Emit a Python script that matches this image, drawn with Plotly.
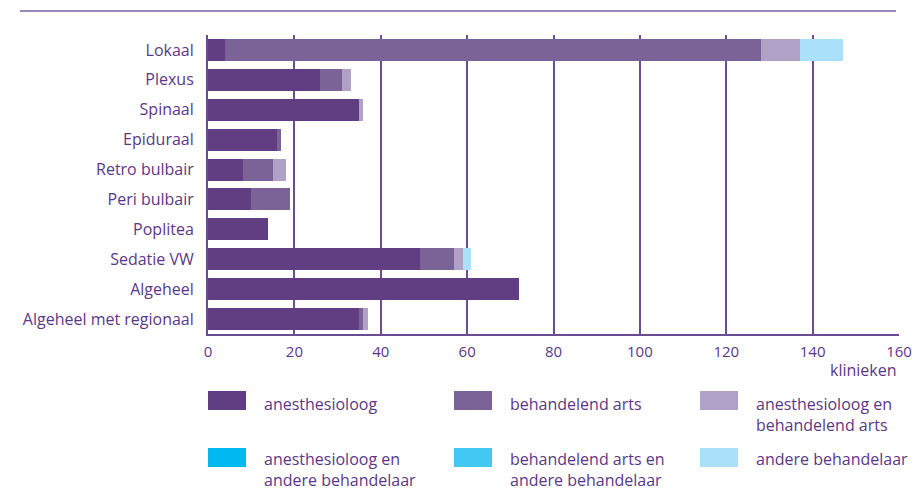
import plotly.graph_objects as go

categories = ["Lokaal", "Plexus", "Spinaal", "Epiduraal", "Retro bulbair",
              "Peri bulbair", "Poplitea", "Sedatie VW", "Algeheel",
              "Algeheel met regionaal"]

series_names = ["anesthesioloog", "behandelend arts",
                "anesthesioloog en<br>behandelend arts",
                "anesthesioloog en<br>andere behandelaar",
                "behandelend arts en<br>andere behandelaar",
                "andere behandelaar"]

anesthesioloog = [4, 26, 35, 16, 8, 10, 14, 49, 72, 35]
behandelend_arts = [124, 5, 0, 1, 7, 9, 0, 8, 0, 1]
anest_en_behandelend = [9, 2, 1, 0, 3, 0, 0, 2, 0, 1]
anest_en_andere = [0, 0, 0, 0, 0, 0, 0, 0, 0, 0]
behandelend_en_andere = [0, 0, 0, 0, 0, 0, 0, 0, 0, 0]
andere_behandelaar = [10, 0, 0, 0, 0, 0, 0, 2, 0, 0]

x_ticks = [0, 20, 40, 60, 80, 100, 120, 140, 160]
x_title = "klinieken"

series_values = [anesthesioloog, behandelend_arts, anest_en_behandelend,
                 anest_en_andere, behandelend_en_andere, andere_behandelaar]
colors = ["#613e81", "#7b6398", "#b0a1c6", "#00b9f0", "#43c8f4", "#abe0fb"]

TXT = "#5b3886"
GRID = "#6a4c93"
FONT = "Open Sans"

W, H = 915, 490
L, R, T, B = 208, 16, 35, 156
PW, PH = W - L - R, H - T - B


def px(xp):
    return (xp - L) / PW


def py(yp):
    return (H - B - yp) / PH


fig = go.Figure()
for name, vals, col in zip(series_names, series_values, colors):
    fig.add_trace(go.Bar(
        y=categories, x=vals, orientation="h", name=name,
        marker=dict(color=col, line=dict(width=0)),
        width=0.735, showlegend=False,
    ))

shapes = []
annotations = []

# top rule
shapes.append(dict(type="line", xref="paper", yref="paper",
                   x0=px(20), x1=px(896), y0=py(11), y1=py(11),
                   line=dict(color="#9d88bb", width=2)))

# custom legend
col_x = [208, 454, 700]
row_y = [391, 448]
text_dy = [1, -1]
for i, (name, col) in enumerate(zip(series_names, colors)):
    r, c = divmod(i, 3)
    x0 = col_x[c]
    y0 = row_y[r]
    shapes.append(dict(type="rect", xref="paper", yref="paper",
                       x0=px(x0), x1=px(x0 + 38), y0=py(y0), y1=py(y0 + 19),
                       fillcolor=col, line=dict(width=0)))
    annotations.append(dict(xref="paper", yref="paper",
                            x=px(x0 + 55), y=py(y0 + text_dy[r]),
                            xanchor="left", yanchor="top", align="left",
                            text=name, showarrow=False, borderpad=0,
                            font=dict(family=FONT, size=16, color=TXT)))

annotations.append(dict(xref="paper", yref="paper", x=px(899), y=py(370),
                        xanchor="right", yanchor="middle", text=x_title,
                        showarrow=False,
                        font=dict(family=FONT, size=16, color=TXT)))

fig.update_layout(
    width=W, height=H,
    margin=dict(l=L, r=R, t=T, b=B, autoexpand=False),
    barmode="stack",
    bargap=0.265,
    plot_bgcolor="white", paper_bgcolor="white",
    font=dict(family=FONT, size=16, color=TXT),
    shapes=shapes, annotations=annotations,
    xaxis=dict(range=[0, 160], tickvals=x_ticks, ticktext=[str(v) for v in x_ticks],
               showgrid=True, gridcolor=GRID, gridwidth=1.5,
               showline=True, linecolor=GRID, linewidth=2,
               zeroline=False, ticks="", ticklabelstandoff=3,
               tickfont=dict(family=FONT, size=15, color=TXT),
               automargin=False, fixedrange=True),
    yaxis=dict(categoryorder="array", categoryarray=categories,
               autorange="reversed",
               showgrid=False, showline=True, linecolor=GRID, linewidth=2,
               zeroline=False, ticks="", ticklabelstandoff=9,
               tickfont=dict(family=FONT, size=16, color=TXT),
               automargin=False, fixedrange=True),
)

fig.write_html("out.html", config={"displayModeBar": False},
               post_script="document.body.style.margin='0';document.body.style.overflow='hidden';")
